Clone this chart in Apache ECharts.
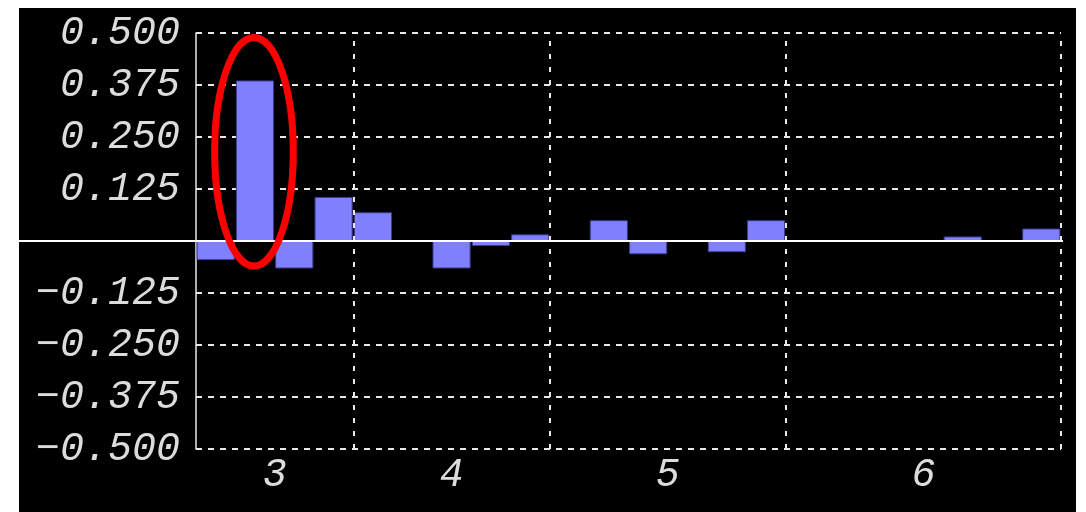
<!DOCTYPE html>
<html>
<head>
<meta charset="utf-8">
<script src="https://cdn.jsdelivr.net/npm/echarts@6/dist/echarts.min.js"></script>
<style>
  html, body { margin: 0; padding: 0; background: #ffffff; }
  #chart { position: absolute; left: 19px; top: 8px; width: 1057px; height: 504px; background: #000000; }
</style>
</head>
<body>
<div id="chart"></div>
<script>
// Group labels along the bottom and how many bar slots each group owns
const groupLabels = ['3', '4', '5', '6'];
const groupSizes = [4, 5, 6, 7];

// One value per slot (null = no bar in that slot)
const values = [
  -0.046, 0.386, -0.066, 0.106,
  0.069, null, -0.066, -0.012, 0.016,
  null, 0.050, -0.032, null, -0.027, 0.050,
  null, null, null, null, 0.011, null, 0.030
];

// Value axis ticks
const yTicks = [-0.5, -0.375, -0.25, -0.125, 0, 0.125, 0.25, 0.375, 0.5];

// Slot keys for the category axis and group boundaries / centres on the label axis
const slotKeys = values.map((_, i) => 's' + i);
const groupBounds = [];
const groupCenters = [];
let acc = 0;
groupSizes.forEach(n => {
  groupCenters.push(acc + n / 2);
  acc += n;
  groupBounds.push(acc);
});

// Slot that gets circled: the tallest bar
let highlightIndex = 0;
values.forEach((v, i) => { if (v != null && v > values[highlightIndex]) highlightIndex = i; });

const textColor = '#dcdcdc';
const lineColor = '#e8e8e8';
const monoFont = '"Liberation Mono", "DejaVu Sans Mono", monospace';

const chart = echarts.init(document.getElementById('chart'), null, { renderer: 'canvas' });

chart.setOption({
  backgroundColor: '#000000',
  animation: false,
  grid: { left: 177, right: 15, top: 25, bottom: 63, containLabel: false },
  xAxis: [
    {
      type: 'category',
      data: slotKeys,
      show: false,
      boundaryGap: true
    },
    {
      type: 'value',
      min: 0,
      max: values.length,
      position: 'bottom',
      axisLine: { show: false },
      axisTick: { show: false },
      splitLine: { show: false },
      axisLabel: {
        customValues: groupCenters,
        formatter: v => {
          const k = groupCenters.indexOf(v);
          return k >= 0 ? groupLabels[k] : '';
        },
        color: textColor,
        fontFamily: monoFont,
        fontStyle: 'italic',
        fontSize: 40,
        margin: 6
      }
    }
  ],
  yAxis: {
    type: 'value',
    min: yTicks[0],
    max: yTicks[yTicks.length - 1],
    interval: 0.125,
    axisLine: { show: true, lineStyle: { color: lineColor, width: 1.5 } },
    axisTick: { show: false },
    splitLine: { show: true, lineStyle: { color: lineColor, width: 2, type: [6, 6] } },
    axisLabel: {
      // the zero tick carries no label; the zero line marks it
      formatter: v => v === 0 ? '' : (v < 0 ? '\u2212' : '') + Math.abs(v).toFixed(3),
      color: textColor,
      fontFamily: monoFont,
      fontStyle: 'italic',
      fontSize: 40,
      margin: 16
    }
  },
  series: [
    {
      type: 'bar',
      xAxisIndex: 0,
      yAxisIndex: 0,
      data: values,
      barCategoryGap: '3%',
      itemStyle: { color: '#8080ff', borderColor: '#3c3c8c', borderWidth: 1 }
    },
    {
      // Group dividers on the label axis
      type: 'line',
      xAxisIndex: 1,
      yAxisIndex: 0,
      data: [],
      markLine: {
        silent: true,
        symbol: 'none',
        label: { show: false },
        lineStyle: { color: lineColor, width: 2, type: [5, 8] },
        data: groupBounds.map(b => ({ xAxis: b }))
      }
    }
  ]
});

// Zero line across the full panel, and the ring around the tallest bar
function drawOverlays() {
  const zeroY = chart.convertToPixel({ yAxisIndex: 0 }, 0);
  const rightX = chart.convertToPixel({ xAxisIndex: 1 }, values.length);
  const p0 = chart.convertToPixel({ xAxisIndex: 0, yAxisIndex: 0 }, [highlightIndex, 0]);
  const pTop = chart.convertToPixel({ xAxisIndex: 0, yAxisIndex: 0 }, [highlightIndex, values[highlightIndex]]);
  const slotW = chart.convertToPixel({ xAxisIndex: 1 }, 1) - chart.convertToPixel({ xAxisIndex: 1 }, 0);
  chart.setOption({
    graphic: [
      {
        type: 'line',
        z: 50,
        shape: { x1: 0, y1: zeroY, x2: rightX + 2, y2: zeroY },
        style: { stroke: '#ffffff', lineWidth: 2 }
      },
      {
        type: 'ellipse',
        z: 60,
        shape: {
          cx: p0[0] - 1,
          cy: (zeroY + pTop[1]) / 2 - 9,
          rx: slotW,
          ry: (zeroY - pTop[1]) / 2 + 34
        },
        style: { fill: 'none', stroke: '#ff0000', lineWidth: 7 }
      }
    ]
  });
}
drawOverlays();
</script>
</body>
</html>
